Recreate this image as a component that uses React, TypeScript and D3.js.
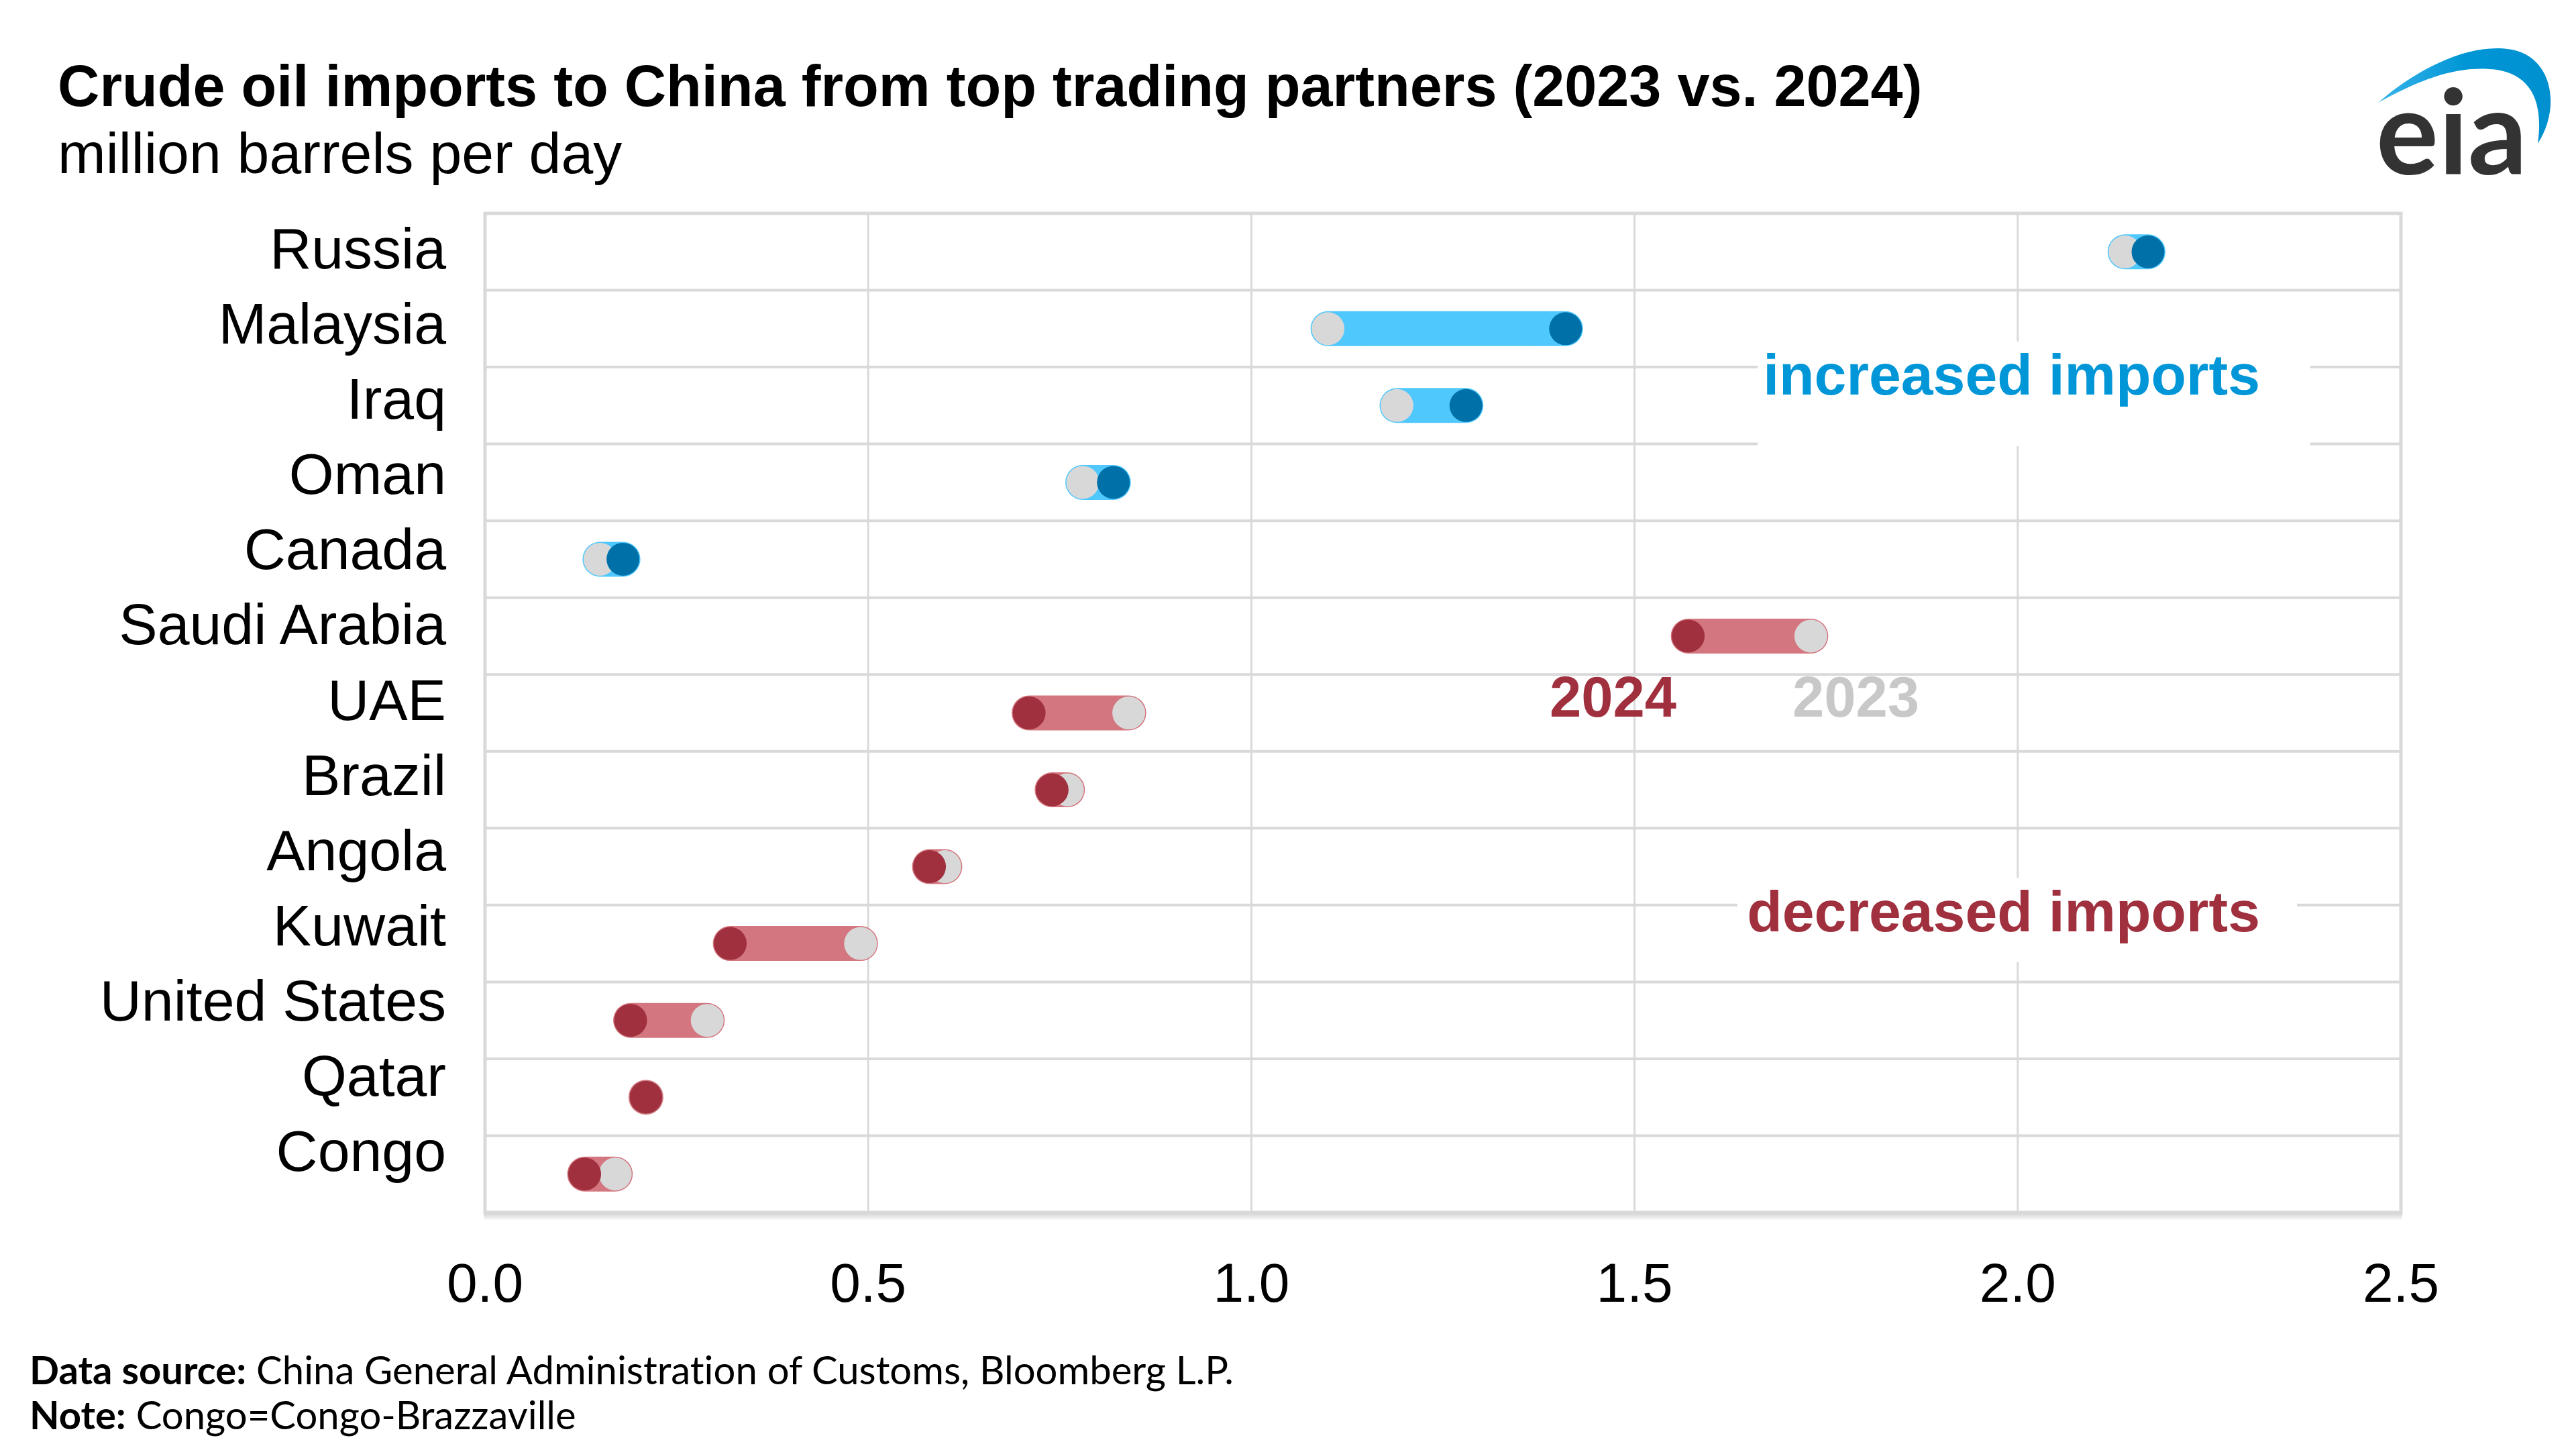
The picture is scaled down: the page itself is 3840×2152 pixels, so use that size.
import React from "react";
import * as d3 from "d3";

const countries = ["Russia", "Malaysia", "Iraq", "Oman", "Canada", "Saudi Arabia", "UAE", "Brazil", "Angola", "Kuwait", "United States", "Qatar", "Congo"];
const imports2023 = [2.14, 1.10, 1.19, 0.78, 0.15, 1.73, 0.84, 0.76, 0.60, 0.49, 0.29, 0.21, 0.17];
const imports2024 = [2.17, 1.41, 1.28, 0.82, 0.18, 1.57, 0.71, 0.74, 0.58, 0.32, 0.19, 0.21, 0.13];
const xTicks = [0, 0.5, 1.0, 1.5, 2.0, 2.5];

const W = 3840;
const H = 2152;
const FONT = "'Liberation Sans', Arial, sans-serif";
const FOOT = "Lato, 'Open Sans', sans-serif";

export default function App() {
  const x = d3.scaleLinear().domain([0, 2.5]).range([723, 3579]);
  const y = d3.scaleBand<string>().domain(countries).range([318, 1807]).padding(0);
  const labelY = d3.scalePoint<string>().domain(countries).range([400, 1745]);
  const bw = y.bandwidth();

  const rows = countries.map((c, i) => ({
    c,
    v23: imports2023[i],
    v24: imports2024[i],
    up: imports2024[i] > imports2023[i],
  }));

  const boundaries = countries.slice(1).map((c) => y(c) as number);
  const [x0, x1] = x.range();
  const [y0, y1] = y.range();

  const capR = 26;
  const dotR = 24.5;

  return (
    <svg
      width={W}
      height={H}
      viewBox={`0 0 ${W} ${H}`}
      style={{ position: "absolute", left: 0, top: 0, background: "#fff" }}
    >
      <defs>
        <linearGradient id="shadow" x1="0" y1="0" x2="0" y2="1">
          <stop offset="0" stopColor="#cfcfcf" />
          <stop offset="1" stopColor="#ffffff" />
        </linearGradient>
        <linearGradient id="arc" x1="0" y1="0" x2="1" y2="0">
          <stop offset="0" stopColor="#39b4ea" />
          <stop offset="0.5" stopColor="#0096d6" />
          <stop offset="1" stopColor="#0090d0" />
        </linearGradient>
      </defs>
      <rect x={0} y={0} width={W} height={H} fill="#fff" />

      {/* Title */}
      <text x={86} y={158} fontFamily={FONT} fontWeight={700} fontSize={86.4} fill="#000">
        Crude oil imports to China from top trading partners (2023 vs. 2024)
      </text>
      <text x={86} y={258} fontFamily={FONT} fontSize={86} fill="#000">
        million barrels per day
      </text>

      {/* EIA logo */}
      <path
        d="M3545,153 C3600,105 3680,62 3745,74 C3805,86 3818,160 3783,214 C3792,150 3772,112 3722,104 C3662,96 3605,120 3545,153 Z"
        fill="url(#arc)"
      />
      <text x={3542} y={260} fontFamily={FOOT} fontWeight={700} fontSize={174} fill="#333333">
        eia
      </text>

      {/* plot frame shadow */}
      <rect x={x0 - 2} y={y1} width={x1 - x0 + 4} height={12} fill="url(#shadow)" />

      {/* gridlines */}
      {boundaries.map((b, i) => (
        <line key={"h" + i} x1={x0} x2={x1} y1={b} y2={b} stroke="#d9d9d9" strokeWidth={4} />
      ))}
      {xTicks.slice(1, -1).map((t) => (
        <line key={"v" + t} x1={x(t)} x2={x(t)} y1={y0} y2={y1} stroke="#d9d9d9" strokeWidth={3} />
      ))}
      <rect x={x0} y={y0} width={x1 - x0} height={y1 - y0} fill="none" stroke="#d9d9d9" strokeWidth={5} />

      {/* white label boxes */}
      <rect x={2620} y={509} width={824} height={156} fill="#fff" />
      <rect x={2590} y={1308} width={834} height={126} fill="#fff" />

      {/* marks */}
      {rows.map((r) => {
        const cy = (y(r.c) as number) + bw / 2;
        const xa = x(Math.min(r.v23, r.v24));
        const xb = x(Math.max(r.v23, r.v24));
        const barColor = r.up ? "#4fc8fe" : "#d4767f";
        const dotColor = r.up ? "#0070a8" : "#a0303e";
        return (
          <g key={r.c}>
            <rect
              x={xa - capR}
              y={cy - capR}
              width={xb - xa + 2 * capR}
              height={2 * capR}
              rx={capR}
              ry={capR}
              fill={barColor}
            />
            <circle cx={x(r.v23)} cy={cy} r={dotR} fill="#d8d8d8" />
            <circle cx={x(r.v24)} cy={cy} r={dotR} fill={dotColor} />
          </g>
        );
      })}

      {/* annotations */}
      <text x={3369} y={588} textAnchor="end" fontFamily={FONT} fontWeight={700} fontSize={86} fill="#0096d7">
        increased imports
      </text>
      <text x={3369} y={1388} textAnchor="end" fontFamily={FONT} fontWeight={700} fontSize={86} fill="#a0303e">
        decreased imports
      </text>
      <text x={2310} y={1068} fontFamily={FONT} fontWeight={700} fontSize={85} fill="#a0303e">
        2024
      </text>
      <text x={2672} y={1068} fontFamily={FONT} fontWeight={700} fontSize={85} fill="#c8c8c8">
        2023
      </text>

      {/* country labels */}
      {countries.map((c) => (
        <text key={"l" + c} x={665} y={labelY(c)} textAnchor="end" fontFamily={FONT} fontSize={86} fill="#000">
          {c}
        </text>
      ))}

      {/* x tick labels */}
      {xTicks.map((t) => (
        <text key={"t" + t} x={x(t)} y={1940} textAnchor="middle" fontFamily={FONT} fontSize={82} fill="#000">
          {d3.format(".1f")(t)}
        </text>
      ))}

      {/* footer */}
      <text x={44} y={2063} fontFamily={FOOT} fontSize={58} fill="#000" style={{ fontVariantLigatures: "none" }}>
        <tspan fontWeight={700}>Data source:</tspan>
        <tspan> China General Administration of Customs, Bloomberg L.P.</tspan>
      </text>
      <text x={44} y={2130} fontFamily={FOOT} fontSize={58} fill="#000" style={{ fontVariantLigatures: "none" }}>
        <tspan fontWeight={700}>Note:</tspan>
        <tspan> Congo=Congo-Brazzaville</tspan>
      </text>
    </svg>
  );
}
